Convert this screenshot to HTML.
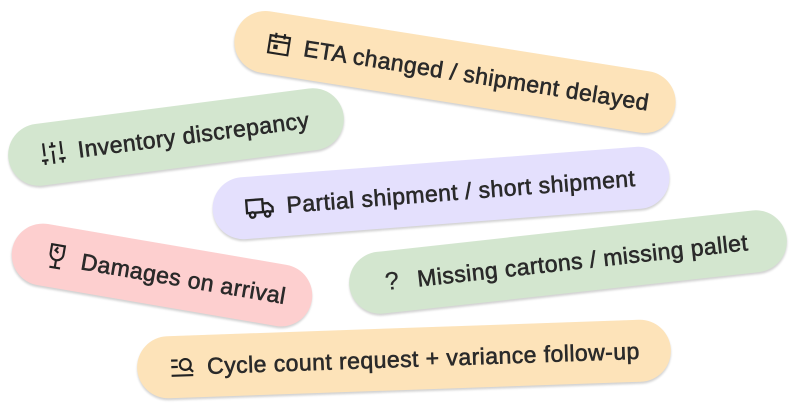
<!DOCTYPE html>
<html><head><meta charset="utf-8"><style>
html,body{margin:0;padding:0;background:#fff;width:796px;height:405px;overflow:hidden;position:relative}
.p{position:absolute;height:62px;border-radius:31px;display:flex;align-items:center;box-sizing:border-box;padding-left:32px;
font-family:"Liberation Sans",sans-serif;font-size:23px;letter-spacing:0.45px;color:#2a2a2a;-webkit-text-stroke:0.6px #2a2a2a;white-space:nowrap;
box-shadow:0 2px 2px rgba(0,0,0,0.18);transform-origin:center}
.p svg{flex:none;margin-right:12px;-webkit-text-stroke:0}
.o{background:#fde3b9}.g{background:#d3e6cf}.u{background:#e4e0fd}.r{background:#fdcfcf}
</style></head><body>

<div class="p o" style="left:232px;top:41px;width:446px;transform:rotate(9deg)">
<svg width="26" height="26" viewBox="0 0 24 24" fill="none" stroke="#222" stroke-width="2"><rect x="3" y="5" width="18" height="16"/><path d="M3 10h18M8 2v5M16 2v5"/><rect x="7" y="13" width="4" height="4" fill="#222" stroke="none"/></svg>ETA changed / shipment delayed</div>

<div class="p g" style="left:7px;top:106px;width:338px;transform:rotate(-7.4deg)">
<svg width="26" height="26" viewBox="0 0 24 24" fill="none" stroke="#222" stroke-width="2"><path d="M4 2v12M4 18v4M1 18h6M12 2v4M12 10v12M9 6h6M20 2v12M20 18v4M17 18h6"/></svg>Inventory discrepancy</div>

<div class="p u" style="left:212px;top:162px;width:458px;transform:rotate(-4.4deg)">
<svg width="30" height="26" viewBox="0 0 28 24" fill="none" stroke="#222" stroke-width="2.2"><path d="M2 5h15v12H2zM17 9h5l4 4v4h-9"/><circle cx="7" cy="19" r="2.5" fill="#e4e0fd"/><circle cx="21" cy="19" r="2.5" fill="#e4e0fd"/></svg>Partial shipment / short shipment</div>

<div class="p r" style="left:10px;top:244px;width:304px;transform:rotate(9.7deg)">
<svg width="26" height="28" viewBox="0 0 24 26" fill="none" stroke="#222" stroke-width="2"><path d="M6 2h12v8a6 6 0 0 1-12 0zM12 16v7M7 23h10M12 4l-2 3 3 2"/></svg>Damages on arrival</div>

<div class="p g" style="left:348px;top:231px;width:440px;transform:rotate(-6.3deg)">
<span style="font-size:25px;margin-right:18px;margin-left:4px;-webkit-text-stroke:0.2px">?</span>Missing cartons / missing pallet</div>

<div class="p o" style="left:137px;top:328px;width:534px;transform:rotate(-2deg)">
<svg width="26" height="26" viewBox="0 0 24 24" fill="none" stroke="#222" stroke-width="2"><path d="M2 6h6M2 12h6M2 20h20"/><circle cx="15" cy="10" r="5"/><path d="M19 14l3 3"/></svg>Cycle count request + variance follow-up</div>

</body></html>
